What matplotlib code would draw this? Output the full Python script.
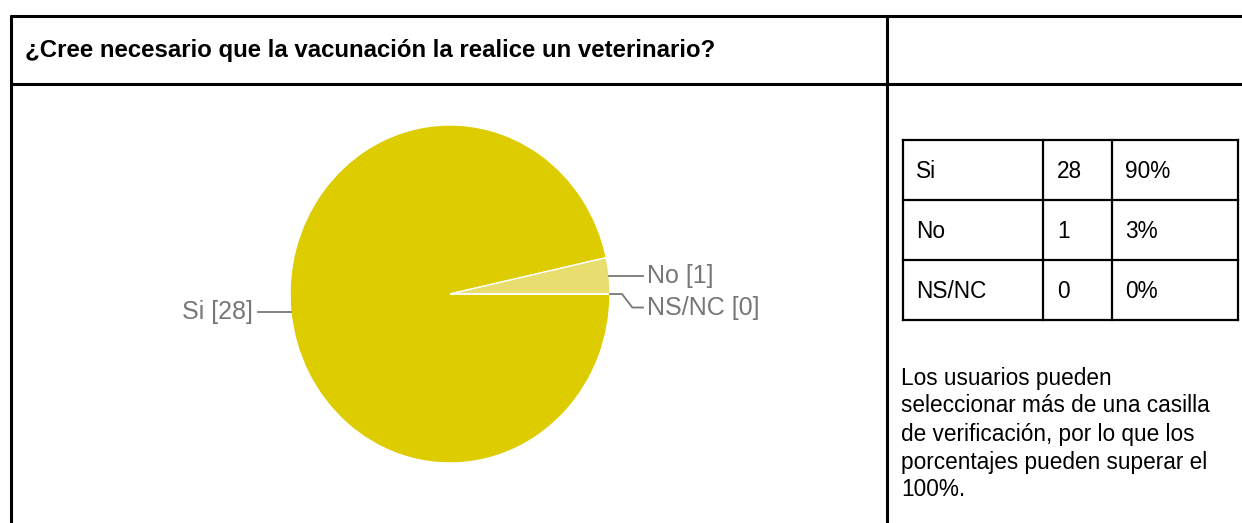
import matplotlib
matplotlib.use("Agg")
import matplotlib.pyplot as plt
import numpy as np

# ---- data ----
title = "¿Cree necesario que la vacunación la realice un veterinario?"
categories = ["Si", "No", "NS/NC"]
counts = [28, 1, 0]
percents = ["90%", "3%", "0%"]
colors = ["#dccc00", "#e8de70", "#f0ea9c"]
footnote = ["Los usuarios pueden",
            "seleccionar más de una casilla",
            "de verificación, por lo que los",
            "porcentajes pueden superar el",
            "100%."]

W, H = 1242, 523
fig = plt.figure(figsize=(W / 100, H / 100), dpi=100)
plt.rcParams['font.family'] = ['Liberation Sans', 'DejaVu Sans']

# full-figure overlay in pixel coordinates
bg = fig.add_axes([0, 0, 1, 1])
bg.set_xlim(0, W)
bg.set_ylim(H, 0)
bg.axis('off')

lw_frame = 2.2
bg.plot([10, W], [16, 16], color='black', lw=lw_frame, solid_capstyle='butt')
bg.plot([10, W], [84, 84], color='black', lw=lw_frame, solid_capstyle='butt')
bg.plot([11, 11], [15, H], color='black', lw=lw_frame, solid_capstyle='butt')
bg.plot([887, 887], [15, H], color='black', lw=lw_frame, solid_capstyle='butt')

bg.text(25, 51, title, fontsize=17.3, fontweight='bold', ha='left', va='center', color='black')

# table
tx = [903, 1043, 1112, 1238]
ty = [140, 200, 260, 320]
lw_t = 1.6
tfs = 16.3
for y in ty:
    bg.plot([tx[0], tx[-1]], [y, y], color='black', lw=lw_t, solid_capstyle='projecting')
for x in tx:
    bg.plot([x, x], [ty[0], ty[-1]], color='black', lw=lw_t, solid_capstyle='projecting')
for i, (c, n, p) in enumerate(zip(categories, counts, percents)):
    yc = (ty[i] + ty[i + 1]) / 2 + 1
    bg.text(916, yc, c, fontsize=tfs, ha='left', va='center')
    bg.text(1057, yc, str(n), fontsize=tfs, ha='left', va='center')
    bg.text(1125, yc, p, fontsize=tfs, ha='left', va='center')

for i, line in enumerate(footnote):
    bg.text(901, 378 + i * 28, line, fontsize=tfs, ha='left', va='center')

# pie
cx, cy, rx, ry = 450, 294, 160, 169
pax = fig.add_axes([(cx - rx) / W, (H - cy - ry) / H, 2 * rx / W, 2 * ry / H])
wedges, _ = pax.pie(counts, colors=colors, startangle=0, counterclock=False,
                    wedgeprops=dict(edgecolor='white', linewidth=1.0))
pax.set_aspect('auto')
pax.set_xlim(-1, 1)
pax.set_ylim(-1, 1)
pax.axis('off')

lab_col = '#777777'
lab_fs = 18
def mid(w):
    return np.deg2rad((w.theta1 + w.theta2) / 2)

# Si label (left)
a = mid(wedges[0])
ex, ey = np.cos(a), np.sin(a)
pax.plot([ex, -1.2], [ey, ey], color=lab_col, lw=1.3, clip_on=False)
pax.text(-1.235, ey, f"{categories[0]} [{counts[0]}]", color=lab_col, fontsize=lab_fs,
         ha='right', va='center')
# No label
a = mid(wedges[1])
ex, ey = np.cos(a), np.sin(a)
pax.plot([ex, 1.206], [ey, ey], color=lab_col, lw=1.3, clip_on=False)
pax.text(1.23, ey, f"{categories[1]} [{counts[1]}]", color=lab_col, fontsize=lab_fs,
         ha='left', va='center')
# NS/NC label
a = np.deg2rad(wedges[2].theta1)
ex, ey = np.cos(a), np.sin(a)
ly = ey - 0.08
pax.plot([ex, 1.075, 1.14, 1.206], [ey, ey, ly, ly], color=lab_col, lw=1.3, clip_on=False)
pax.text(1.23, ly, f"{categories[2]} [{counts[2]}]", color=lab_col, fontsize=lab_fs,
         ha='left', va='center')

fig.savefig("out.png", dpi=100)
